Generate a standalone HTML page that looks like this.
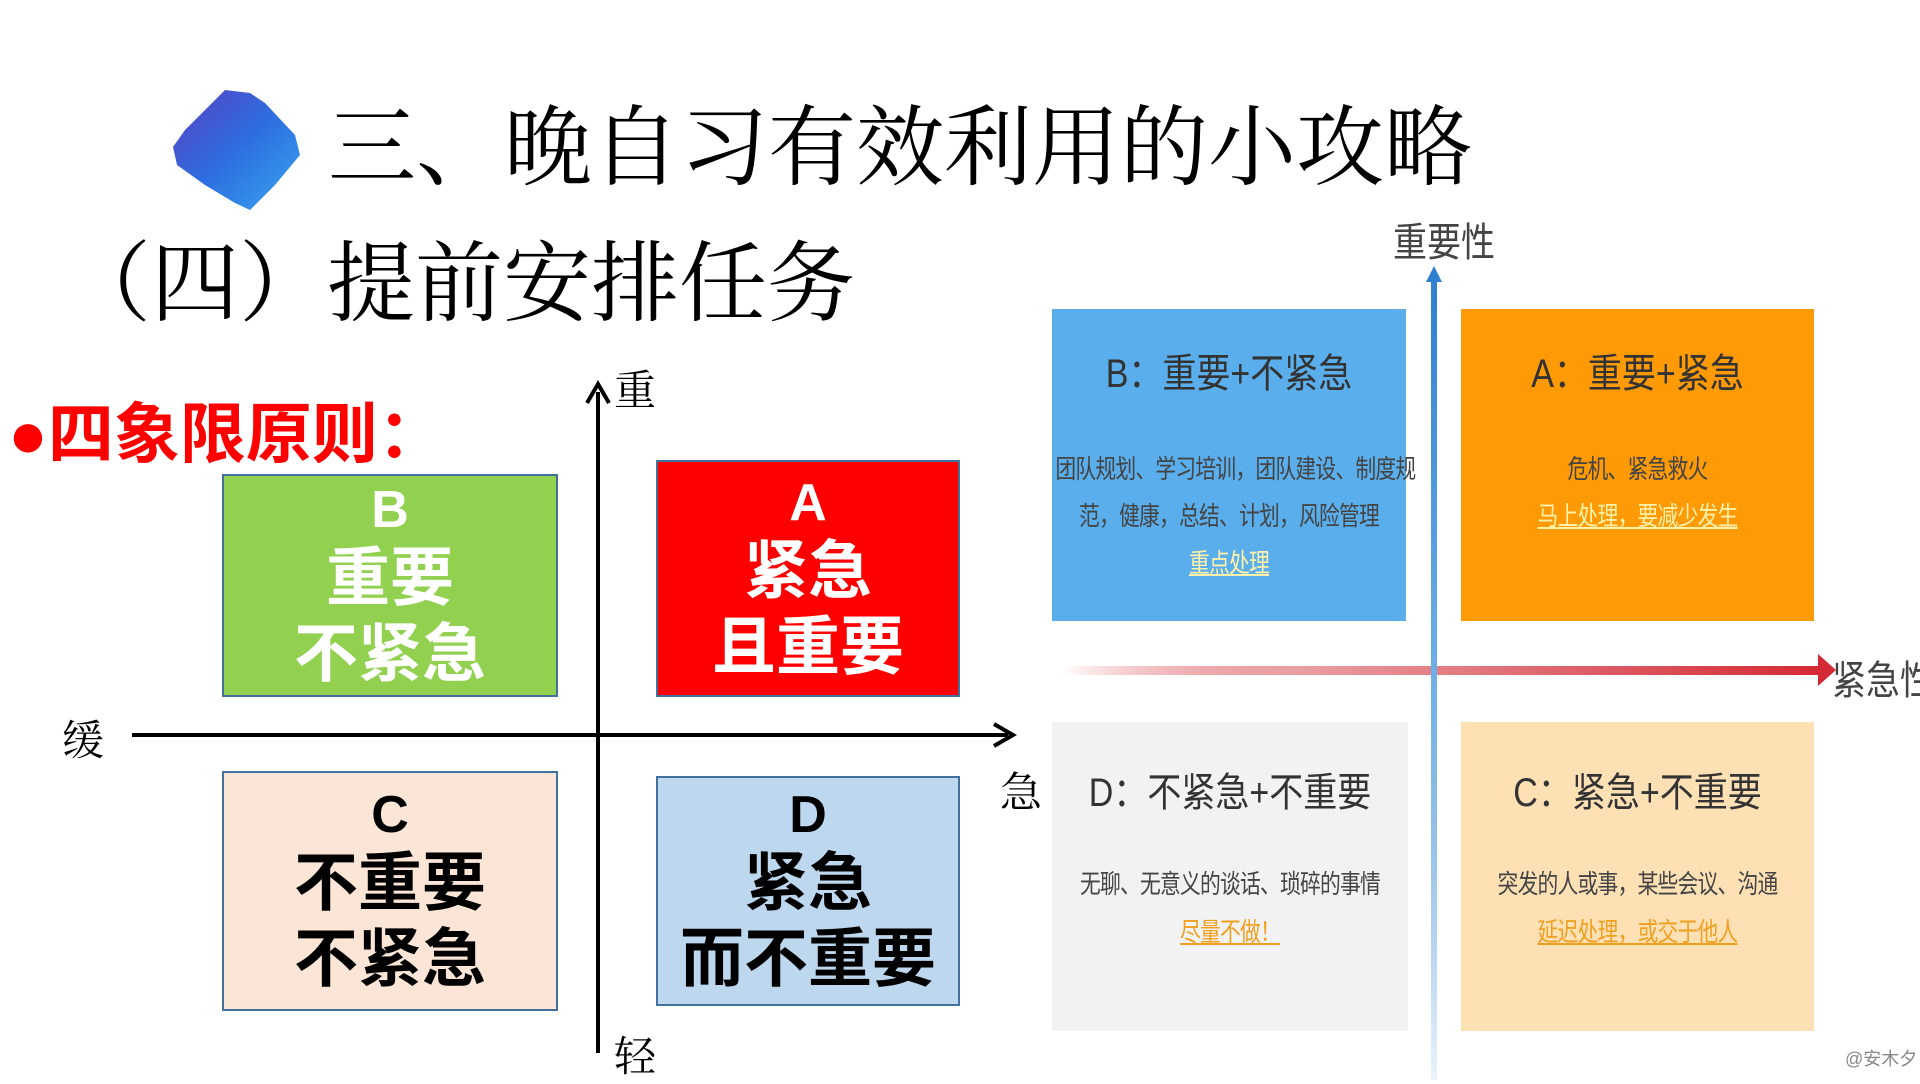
<!DOCTYPE html>
<html><head><meta charset="utf-8"><style>
*{margin:0;padding:0;box-sizing:border-box}
body{width:1920px;height:1080px;background:#fff;position:relative;overflow:hidden;font-family:"Liberation Serif","Noto Serif CJK SC",serif}
.a{position:absolute;white-space:nowrap}
.box{position:absolute;display:flex;flex-direction:column;align-items:center;justify-content:center;font-family:"Liberation Sans","Noto Sans CJK SC",sans-serif;font-weight:bold;line-height:76px}
.box .l{font-size:52px;line-height:60px}
.box .t{font-size:64px}
.q{position:absolute;font-family:"Liberation Sans","Noto Sans CJK SC",sans-serif;text-align:center;color:#333}
.q .h{font-size:40px;position:absolute;left:-40px;right:-40px;transform:scaleX(.85);white-space:nowrap}
.q .b{font-size:26px;position:absolute;left:-40px;right:-40px;color:#444;transform:scaleX(.8);letter-spacing:-1px;white-space:nowrap}
.q .u{text-decoration:underline}
</style></head><body>
<svg class="a" style="left:165px;top:85px" width="150" height="130" viewBox="0 0 150 130">
<defs><linearGradient id="g" x1="0" y1="0" x2="1" y2="1"><stop offset="0" stop-color="#5a3fc0"/><stop offset=".5" stop-color="#2d6ee0"/><stop offset="1" stop-color="#39a6ee"/></linearGradient></defs>
<polygon points="60,5 85,8 100,18 130,50 135,70 110,100 85,125 70,118 40,100 12,80 8,62 20,45 40,25" fill="url(#g)"/>
</svg>
<div class="a" style="left:328px;top:100px;font-size:88px;letter-spacing:0px;line-height:100px">三、晚自习有效利用的小攻略</div>
<div class="a" style="left:63px;top:236px;font-size:88px;line-height:100px">（四）提前安排任务</div>
<div class="a" style="left:8px;top:396px;font-size:66px;line-height:76px;color:#f00;font-weight:bold;font-family:'Liberation Sans','Noto Sans CJK SC',sans-serif">●四象限原则：</div>

<svg class="a" style="left:0;top:0" width="1040" height="1080">
<line x1="598" y1="392" x2="598" y2="1053" stroke="#000" stroke-width="4"/>
<polyline points="587,403 598,384 609,403" fill="none" stroke="#000" stroke-width="4"/>
<line x1="132" y1="735" x2="1008" y2="735" stroke="#000" stroke-width="4"/>
<polyline points="994,724 1013,735 994,746" fill="none" stroke="#000" stroke-width="4"/>
</svg>
<div class="a" style="left:614px;top:358px;font-size:42px">重</div>
<div class="a" style="left:62px;top:708px;font-size:42px">缓</div>
<div class="a" style="left:1000px;top:760px;font-size:42px">急</div>
<div class="a" style="left:614px;top:1024px;font-size:42px">轻</div>

<div class="box" style="left:222px;top:474px;width:336px;height:223px;background:#92d050;border:2px solid #41719c;color:#fff"><div class="l">B</div><div class="t">重要</div><div class="t">不紧急</div></div>
<div class="box" style="left:656px;top:460px;width:304px;height:237px;background:#f00;border:2px solid #41719c;color:#fff"><div class="l">A</div><div class="t">紧急</div><div class="t">且重要</div></div>
<div class="box" style="left:222px;top:771px;width:336px;height:240px;background:#fbe5d6;border:2px solid #41719c;color:#000"><div class="l">C</div><div class="t">不重要</div><div class="t">不紧急</div></div>
<div class="box" style="left:656px;top:776px;width:304px;height:230px;background:#bdd7ee;border:2px solid #41719c;color:#000"><div class="l">D</div><div class="t">紧急</div><div class="t">而不重要</div></div>

<div class="q" style="left:1052px;top:309px;width:354px;height:312px;background:#5aaeeb">
<div class="h" style="top:32px">B：重要+不紧急</div>
<div class="b" style="top:140px">团队规划、学习培训，团队建设、制度规</div>
<div class="b" style="top:187px">范，健康，总结、计划，风险管理</div>
<div class="b u" style="top:234px;color:#fff2a8">重点处理</div></div>
<div class="q" style="left:1461px;top:309px;width:353px;height:312px;background:#fe9a06">
<div class="h" style="top:32px">A：重要+紧急</div>
<div class="b" style="top:140px">危机、紧急救火</div>
<div class="b u" style="top:187px;color:#fff2a8">马上处理，要减少发生</div></div>
<div class="q" style="left:1052px;top:722px;width:356px;height:309px;background:#f3f2f2">
<div class="h" style="top:38px">D：不紧急+不重要</div>
<div class="b" style="top:142px">无聊、无意义的谈话、琐碎的事情</div>
<div class="b u" style="top:190px;color:#f0a020">尽量不做！</div></div>
<div class="q" style="left:1461px;top:722px;width:353px;height:309px;background:#fde0b4">
<div class="h" style="top:38px">C：紧急+不重要</div>
<div class="b" style="top:142px">突发的人或事，某些会议、沟通</div>
<div class="b u" style="top:190px;color:#f0a020">延迟处理，或交于他人</div></div>

<svg class="a" style="left:1040px;top:250px" width="880" height="830">
<defs>
<linearGradient id="r" x1="0" x2="1"><stop offset="0" stop-color="#d9363e" stop-opacity="0"/><stop offset=".3" stop-color="#e9a0a5"/><stop offset="1" stop-color="#d42a35"/></linearGradient>
<linearGradient id="bl" x1="0" y1="0" x2="0" y2="1"><stop offset="0" stop-color="#2f7fd0"/><stop offset=".5" stop-color="#6fb0e8"/><stop offset="1" stop-color="#3a88d0" stop-opacity=".1"/></linearGradient>
</defs>
<rect x="22" y="416" width="758" height="9" fill="url(#r)"/>
<polygon points="778,404 796,420 778,436" fill="#d42a35"/>
<rect x="391" y="28" width="6" height="802" fill="url(#bl)"/>
<polygon points="386,32 394,16 402,32" fill="#2f7fd0"/>
</svg>
<div class="a" style="left:1393px;top:210px;font-size:40px;color:#444;font-family:'Liberation Sans','Noto Sans CJK SC',sans-serif;transform:scaleX(.85);transform-origin:left">重要性</div>
<div class="a" style="left:1832px;top:648px;font-size:40px;color:#444;font-family:'Liberation Sans','Noto Sans CJK SC',sans-serif;transform:scaleX(.85);transform-origin:left">紧急性</div>
<div class="a" style="left:1845px;top:1045px;font-size:18px;color:#888;font-family:'Liberation Sans','Noto Sans CJK SC',sans-serif">@安木夕</div>
</body></html>
